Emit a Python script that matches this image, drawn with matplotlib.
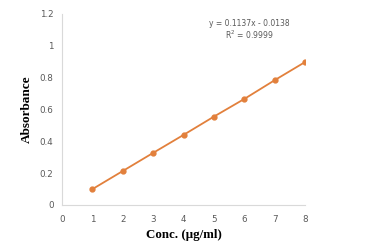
import matplotlib.pyplot as plt

conc = [1, 2, 3, 4, 5, 6, 7, 8]
absorbance = [0.099, 0.213, 0.327, 0.440, 0.555, 0.666, 0.784, 0.898]
x_ticks = [0, 1, 2, 3, 4, 5, 6, 7, 8]
y_ticks = [0, 0.2, 0.4, 0.6, 0.8, 1, 1.2]
y_tick_labels = ['0', '0.2', '0.4', '0.6', '0.8', '1', '1.2']

fig = plt.figure(figsize=(3.8, 2.49), dpi=100)
ax = fig.add_axes([0.163, 0.177, 0.64, 0.767])
ax.plot(conc, absorbance, color='#E2803C', lw=1.3, marker='o', ms=3.5)

ax.set_xlim(0, 8)
ax.set_ylim(0, 1.2)
ax.set_xticks(x_ticks)
ax.set_yticks(y_ticks)
ax.set_yticklabels(y_tick_labels)
ax.tick_params(length=0, labelsize=6.3, colors='#595959', pad=6)
ax.tick_params(axis='x', pad=7)
for s in ['top', 'right']:
    ax.spines[s].set_visible(False)
for s in ['left', 'bottom']:
    ax.spines[s].set_color('#D9D9D9')
    ax.spines[s].set_linewidth(0.8)

ax.set_xlabel('Conc. (µg/ml)', family='Liberation Serif', fontweight='bold', fontsize=9.3, labelpad=4)
ax.set_ylabel('Absorbance', family='Liberation Serif', fontweight='bold', fontsize=9.5, labelpad=5)

ax.text(0.77, 0.952, 'y = 0.1137x - 0.0138', transform=ax.transAxes, ha='center', va='center', fontsize=5.5, color='#595959')
ax.text(0.77, 0.89, 'R$^2$ = 0.9999', transform=ax.transAxes, ha='center', va='center', fontsize=5.5, color='#595959')

fig.savefig('out.png', dpi=100, facecolor='white')
